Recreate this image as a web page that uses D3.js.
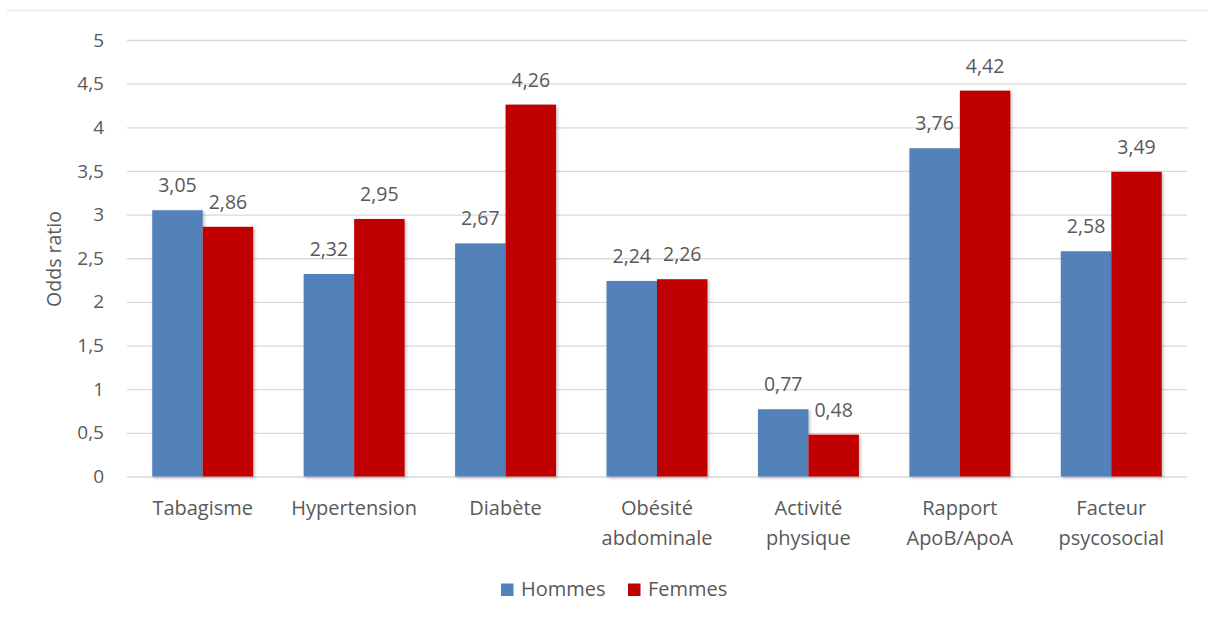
<!DOCTYPE html>
<html>
<head>
<meta charset="utf-8">
<script src="https://cdn.jsdelivr.net/npm/d3@7"></script>
<style>
  body { margin: 0; background: #fff; }
  text { font-family: "Open Sans", "Noto Sans", sans-serif; fill: #595959; }
</style>
</head>
<body>
<svg id="chart" width="1208" height="619"></svg>
<script>
// categories (multi-line labels)
const categories = [
  ['Tabagisme'],
  ['Hypertension'],
  ['Diabète'],
  ['Obésité', 'abdominale'],
  ['Activité', 'physique'],
  ['Rapport', 'ApoB/ApoA'],
  ['Facteur', 'psycosocial']
];
const series = ['Hommes', 'Femmes'];
const hommes = [3.05, 2.32, 2.67, 2.24, 0.77, 3.76, 2.58];
const femmes = [2.86, 2.95, 4.26, 2.26, 0.48, 4.42, 3.49];
const yTicks = [0, 0.5, 1, 1.5, 2, 2.5, 3, 3.5, 4, 4.5, 5];
const colors = ['#5381B9', '#C00000'];

const svg = d3.select('#chart');
const fmt = (v) => String(v).replace('.', ',');

// frame line on top
svg.append('line')
  .attr('x1', 7).attr('x2', 1208).attr('y1', 10.5).attr('y2', 10.5)
  .attr('stroke', '#ececec').attr('stroke-width', 2);

const defs = svg.append('defs');
const shadow = defs.append('filter').attr('id', 'shadow')
  .attr('x', '-10%').attr('y', '-10%').attr('width', '130%').attr('height', '130%');
shadow.append('feDropShadow')
  .attr('dx', 1.5).attr('dy', 1.5).attr('stdDeviation', 1.5)
  .attr('flood-color', '#000').attr('flood-opacity', 0.25);

const x = d3.scaleBand()
  .domain(d3.range(categories.length))
  .range([127, 1187])
  .paddingInner(1 / 3)
  .paddingOuter(1 / 6);

const xs = d3.scaleBand()
  .domain(series)
  .range([0, x.bandwidth()]);

const y = d3.scaleLinear().domain([0, 5]).range([476.5, 40]);

// gridlines + y tick labels
const yAxis = d3.axisLeft(y)
  .tickValues(yTicks)
  .tickSize(-(1187 - 127))
  .tickPadding(23)
  .tickFormat(fmt);

const gy = svg.append('g')
  .attr('transform', 'translate(127,0)')
  .call(yAxis);
gy.select('.domain').remove();
gy.selectAll('.tick line').attr('stroke', '#d9d9d9').attr('stroke-width', 1.3);
gy.selectAll('.tick text')
  .attr('font-size', 19)
  .style('font-family', '"Open Sans", sans-serif')
  .attr('fill', '#595959');

// y axis title
svg.append('text')
  .attr('transform', 'translate(61,259) rotate(-90)')
  .attr('text-anchor', 'middle')
  .attr('font-size', 19.5)
  .text('Odds ratio');

// bars
const data = categories.map((c, i) => ({ i: i, values: [hommes[i], femmes[i]] }));

const groups = svg.append('g').selectAll('g')
  .data(data)
  .join('g')
  .attr('transform', (d) => `translate(${x(d.i)},0)`);

groups.selectAll('rect')
  .data((d) => d.values.map((v, k) => ({ s: series[k], v: v, k: k })))
  .join('rect')
  .attr('x', (d) => xs(d.s))
  .attr('y', (d) => y(d.v))
  .attr('width', xs.bandwidth())
  .attr('height', (d) => y(0) - y(d.v))
  .attr('fill', (d) => colors[d.k])
  .attr('filter', 'url(#shadow)');

// data labels
groups.selectAll('text.val')
  .data((d) => d.values.map((v, k) => ({ s: series[k], v: v, k: k })))
  .join('text')
  .attr('class', 'val')
  .attr('x', (d) => xs(d.s) + xs.bandwidth() / 2)
  .attr('y', (d) => y(d.v) - 18)
  .attr('text-anchor', 'middle')
  .attr('font-size', 19.5)
  .attr('fill', '#404040')
  .text((d) => fmt(d.v));

// category labels
const xl = svg.append('g').selectAll('text')
  .data(categories)
  .join('text')
  .attr('x', (d, i) => x(i) + x.bandwidth() / 2)
  .attr('y', 515)
  .attr('text-anchor', 'middle')
  .attr('font-size', 20);
xl.selectAll('tspan')
  .data((d) => d)
  .join('tspan')
  .attr('x', function () { return this.parentNode.getAttribute('x'); })
  .attr('dy', (d, j) => (j === 0 ? 0 : 29.5))
  .text((d) => d);

// legend
const legend = svg.append('g');
const legendX = [501, 628];
series.forEach((s, k) => {
  legend.append('rect')
    .attr('x', legendX[k]).attr('y', 583.5)
    .attr('width', 12.5).attr('height', 12.5)
    .attr('fill', colors[k]);
  legend.append('text')
    .attr('x', legendX[k] + 20).attr('y', 596)
    .attr('font-size', 20)
    .text(s);
});
</script>
</body>
</html>
